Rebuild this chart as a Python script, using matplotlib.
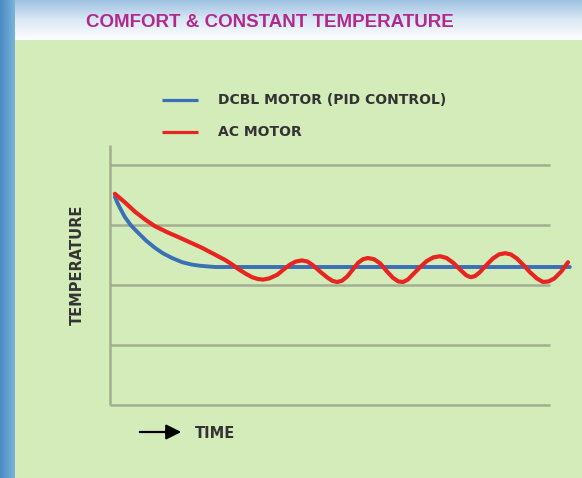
import matplotlib
matplotlib.use("Agg")
import matplotlib.pyplot as plt
import numpy as np
from matplotlib.patches import Rectangle

# data (time in arbitrary units, temperature in grid steps)
ac_time = [0.11, 0.35, 0.57, 0.80, 1.02, 1.30, 1.55, 1.82, 2.09, 2.35, 2.61, 2.78,
           2.91, 3.08, 3.23, 3.36, 3.48, 3.62, 3.80, 3.95, 4.09, 4.22, 4.36, 4.49,
           4.61, 4.78, 4.93, 5.05, 5.16, 5.27, 5.39, 5.52, 5.64, 5.75, 5.86, 6.00,
           6.14, 6.29, 6.43, 6.55, 6.66, 6.77, 6.89, 7.05, 7.20, 7.35, 7.50, 7.65,
           7.80, 7.98, 8.10, 8.20, 8.30, 8.40, 8.55, 8.70, 8.84, 8.98, 9.11, 9.25,
           9.40, 9.55, 9.70, 9.84, 9.97, 10.10, 10.25, 10.41]
ac_temp = [3.52, 3.37, 3.22, 3.09, 2.98, 2.88, 2.80, 2.71, 2.62, 2.52, 2.42, 2.34,
           2.27, 2.19, 2.13, 2.10, 2.09, 2.11, 2.17, 2.26, 2.34, 2.39, 2.41, 2.39,
           2.33, 2.22, 2.13, 2.07, 2.05, 2.07, 2.14, 2.26, 2.37, 2.43, 2.45, 2.43,
           2.36, 2.23, 2.12, 2.06, 2.05, 2.09, 2.18, 2.30, 2.40, 2.46, 2.48, 2.45,
           2.37, 2.24, 2.16, 2.13, 2.15, 2.21, 2.33, 2.44, 2.51, 2.53, 2.51, 2.44,
           2.33, 2.21, 2.11, 2.05, 2.06, 2.11, 2.22, 2.38]

dc_time = [0.11, 0.17, 0.23, 0.34, 0.48, 0.64, 0.82, 1.02, 1.20, 1.41, 1.64, 1.86,
           2.05, 2.39, 2.80, 4.0, 6.0, 8.0, 10.45]
dc_temp = [3.47, 3.37, 3.28, 3.13, 2.99, 2.87, 2.74, 2.62, 2.53, 2.45, 2.38, 2.34,
           2.32, 2.30, 2.30, 2.30, 2.30, 2.30, 2.30]

grid_levels = [0, 1, 2, 3, 4]
series_names = ["DCBL MOTOR (PID CONTROL)", "AC MOTOR"]
series_colors = ["#3b6fb6", "#e82420"]

W, H = 582, 478
fig = plt.figure(figsize=(W / 100, H / 100), dpi=100)

# background: green panel, title band, blue strip at left
bg = fig.add_axes([0, 0, 1, 1])
bg.axis("off")
bg.add_patch(Rectangle((0, 0), W, H, color="#d3ecb9", zorder=-5))
band = np.linspace(0, 1, 64).reshape(-1, 1)
bg.imshow(band, cmap=matplotlib.colors.LinearSegmentedColormap.from_list(
    "band", ["#9fc2e2", "#dbe8f4", "#ffffff"]), extent=(15, W, 40, 0),
    aspect="auto", zorder=1)
strip = np.linspace(0, 1, 64).reshape(1, -1)
bg.imshow(strip, cmap=matplotlib.colors.LinearSegmentedColormap.from_list(
    "strip", ["#4a8ac2", "#7ab4dc"]), extent=(0, 15, H, 0), aspect="auto",
    zorder=1)
bg.set_xlim(0, W)
bg.set_ylim(H, 0)

bg.text(270, 22, "COMFORT & CONSTANT TEMPERATURE", color="#b02a8e",
        fontsize=13.5, fontweight="bold", ha="center", va="center",
        family="Liberation Sans", zorder=3)

# legend drawn by hand
for i, (name, col) in enumerate(zip(series_names, series_colors)):
    yy = 100 + 32 * i
    bg.plot([162, 198], [yy, yy], color=col, lw=2.3, solid_capstyle="butt")
    bg.text(218, yy, name, fontsize=10, fontweight="bold", color="#333333",
            ha="left", va="center", family="DejaVu Sans")

# axis labels
bg.text(77, 265, "TEMPERATURE", rotation=90, fontsize=10.5, fontweight="bold",
        color="#333333", ha="center", va="center", family="DejaVu Sans")
bg.annotate("", xy=(184, 432), xytext=(137, 432),
            arrowprops=dict(arrowstyle="-|>,head_length=0.9,head_width=0.45",
                            color="black", lw=1.6))
bg.text(195, 434, "TIME", fontsize=10.5, fontweight="bold", color="#333333",
        ha="left", va="center", family="DejaVu Sans")

# chart area
ax = fig.add_axes([110 / W, 73 / H, 472 / W, 260 / H])
ax.set_xlim(0, 472 / 44)
ax.set_ylim(0, 260 / 60)
ax.axis("off")
ax.hlines(grid_levels, 0, 10.0, color="#a3ae90", lw=1.8, clip_on=False)
ax.vlines(0, 0, 260 / 60, color="#a3ae90", lw=1.8, clip_on=False)

ax.plot(dc_time, dc_temp, color=series_colors[0], lw=2.8, clip_on=False,
        solid_capstyle="round", solid_joinstyle="round")
ax.plot(ac_time, ac_temp, color=series_colors[1], lw=3.0, clip_on=False,
        solid_capstyle="round", solid_joinstyle="round")

fig.savefig("out.png", dpi=100)
